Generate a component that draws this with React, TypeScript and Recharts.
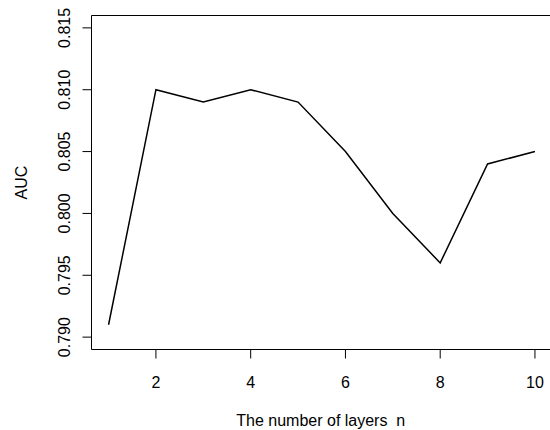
import { Line, LineChart, ReferenceLine, XAxis, YAxis } from "recharts";

const layers = [1, 2, 3, 4, 5, 6, 7, 8, 9, 10];
const auc = [0.791, 0.81, 0.809, 0.81, 0.809, 0.805, 0.8, 0.796, 0.804, 0.805];
const xTicks = [2, 4, 6, 8, 10];
const yTicks = [0.79, 0.795, 0.8, 0.805, 0.81, 0.815];

const data = layers.map((n, i) => ({ n, auc: auc[i] }));

const FONT = "'Liberation Sans', Arial, Helvetica, sans-serif";

const XTick = (p: any) => (
  <text x={p.x} y={p.y + 27} textAnchor="middle" fontSize={16} fontFamily={FONT} fill="#000">
    {p.payload.value}
  </text>
);

const YTick = (p: any) => (
  <text
    x={p.x - 10}
    y={p.y}
    textAnchor="middle"
    fontSize={16}
    fontFamily={FONT}
    fill="#000"
    transform={`rotate(-90, ${p.x - 10}, ${p.y})`}
  >
    {Number(p.payload.value).toFixed(3)}
  </text>
);

export default function App() {
  return (
    <div style={{ position: "fixed", left: 0, top: 0, width: 550, height: 430, overflow: "hidden", background: "#fff" }}>
      <LineChart width={553} height={430} data={data} margin={{ top: 15.5, right: 1, bottom: 0, left: 0 }}>
        <XAxis
          dataKey="n"
          type="number"
          domain={[0.64, 10.36]}
          ticks={xTicks}
          allowDataOverflow
          height={80.5}
          tickSize={9}
          axisLine={{ stroke: "#000" }}
          tickLine={{ stroke: "#000" }}
          tick={<XTick />}
          label={{
            content: (props: any) => {
              const vb = props.viewBox;
              return (
                <text
                  x={vb.x + vb.width / 2 - 1}
                  y={vb.y + vb.height - 4}
                  textAnchor="middle"
                  fontSize={16}
                  fontFamily={FONT}
                  fill="#000"
                  style={{ whiteSpace: "pre" }}
                >
                  {"The number of layers  n"}
                </text>
              );
            },
          }}
        />
        <YAxis
          type="number"
          domain={[0.789, 0.816]}
          ticks={yTicks}
          allowDataOverflow
          width={91.5}
          tickSize={9}
          axisLine={{ stroke: "#000" }}
          tickLine={{ stroke: "#000" }}
          tick={<YTick />}
          label={{
            content: (props: any) => {
              const vb = props.viewBox;
              const cy = vb.y + vb.height / 2;
              return (
                <text x={27} y={cy} textAnchor="middle" fontSize={16} fontFamily={FONT} fill="#000" transform={`rotate(-90, 27, ${cy})`}>
                  AUC
                </text>
              );
            },
          }}
        />
        <ReferenceLine y={0.816} stroke="#000" ifOverflow="visible" />
        <ReferenceLine x={10.36} stroke="#000" ifOverflow="visible" />
        <Line dataKey="auc" stroke="#000" strokeWidth={1.5} dot={false} isAnimationActive={false} />
      </LineChart>
    </div>
  );
}
